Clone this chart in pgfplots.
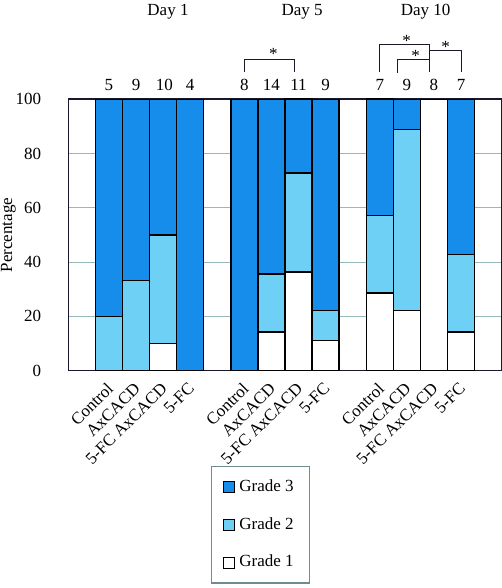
\documentclass[border=0pt]{standalone}
\usepackage{fontspec}
\setmainfont{Liberation Serif}
\usepackage{pgfplots}
\pgfplotsset{compat=1.18}
\definecolor{gthree}{RGB}{22,140,235}
\definecolor{gtwo}{RGB}{110,208,245}
\definecolor{gridc}{RGB}{150,185,185}
\definecolor{legc}{RGB}{110,140,145}
\definecolor{framec}{RGB}{25,25,45}
\begin{document}
\begin{tikzpicture}[font=\fontsize{8.5}{10}\selectfont]
\useasboundingbox (0,0) rectangle (251pt,294pt);
\begin{axis}[
  at={(34.15pt,108.65pt)}, anchor=south west,
  scale only axis, width=216.7pt, height=135.7pt,
  ybar stacked, bar width=1,
  xmin=-0.5, xmax=15.5, ymin=0, ymax=100,
  ytick={0,20,40,60,80,100},
  xtick={1,2,3,4,6,7,8,9,11,12,13,14},
  xticklabels={Control,AxCACD,5-FC AxCACD,5-FC,Control,AxCACD,5-FC AxCACD,5-FC,Control,AxCACD,5-FC AxCACD,5-FC},
  xticklabel style={xshift=-1.5pt, yshift=-0.5pt, rotate=45, anchor=north east},
  yticklabel style={xshift=-10pt},
  ymajorgrids, grid style={gridc, line width=0.6pt},
  major tick length=0,
  axis line style={line width=0.8pt, color=framec},
  /pgf/number format/assume math mode=true,
  ylabel={Percentage},
  ylabel style={at={(axis description cs:-0.138,0.5)}, anchor=center},
  clip=false,
  reverse legend,
  legend cell align=left,
  legend style={at={(axis description cs:0.4435,-0.351)}, anchor=north,
    draw=legc, line width=0.6pt, row sep=7.5pt, inner xsep=6pt, inner ysep=4.5pt},
  sqlegend/.style={legend image code/.code={\draw[##1, draw=black, line width=0.5pt] (0pt,-2.75pt) rectangle (5.5pt,2.75pt);}},
]
\addplot[fill=white, draw=black, line width=0.7pt, sqlegend] coordinates {(1,0) (2,0) (3,10) (4,0) (6,0) (7,14.3) (8,36.4) (9,11.1) (11,28.6) (12,22.2) (13,100) (14,14.3)};
\addplot[fill=gtwo, draw=black, line width=0.7pt, sqlegend] coordinates {(1,20) (2,33.3) (3,40) (4,0) (6,0) (7,21.4) (8,36.4) (9,11.1) (11,28.6) (12,66.7) (13,0) (14,28.6)};
\addplot[fill=gthree, draw=black, line width=0.7pt, sqlegend] coordinates {(1,80) (2,66.7) (3,50) (4,100) (6,100) (7,64.3) (8,27.3) (9,77.8) (11,42.9) (12,11.1) (13,0) (14,57.1)};
\legend{Grade 1, Grade 2, Grade 3}
% n counts
\node at (axis cs:1,105.3) {5};
\node at (axis cs:2,105.3) {9};
\node at (axis cs:3.05,105.3) {10};
\node at (axis cs:4,105.3) {4};
\node at (axis cs:6,105.3) {8};
\node at (axis cs:7,105.3) {14};
\node at (axis cs:8,105.3) {11};
\node at (axis cs:9,105.3) {9};
\node at (axis cs:11,105.3) {7};
\node at (axis cs:12,105.3) {9};
\node at (axis cs:13,105.3) {8};
\node at (axis cs:14,105.3) {7};
% day labels
\node at (axis cs:3.18,132.2) {Day 1};
\node at (axis cs:8.13,132.2) {Day 5};
\node at (axis cs:12.69,132.2) {Day 10};
% brackets
\draw[line width=0.5pt, framec] (axis cs:6,110.2) -- (axis cs:6,114.7) -- (axis cs:7.85,114.7) -- (axis cs:7.85,110.2);
\node at (axis cs:7.07,116.6) {*};
\draw[line width=0.5pt, framec] (axis cs:11,110.2) -- (axis cs:11,120.3) -- (axis cs:12.83,120.3) -- (axis cs:12.83,110.2);
\node at (axis cs:11.99,121.5) {*};
\draw[line width=0.5pt, framec] (axis cs:11.66,109.8) -- (axis cs:11.66,114.5) -- (axis cs:12.83,114.5);
\node at (axis cs:12.32,115.8) {*};
\draw[line width=0.5pt, framec] (axis cs:12.83,117.8) -- (axis cs:14,117.8) -- (axis cs:14,110.2);
\node at (axis cs:13.43,119.2) {*};
\end{axis}
\end{tikzpicture}
\end{document}
